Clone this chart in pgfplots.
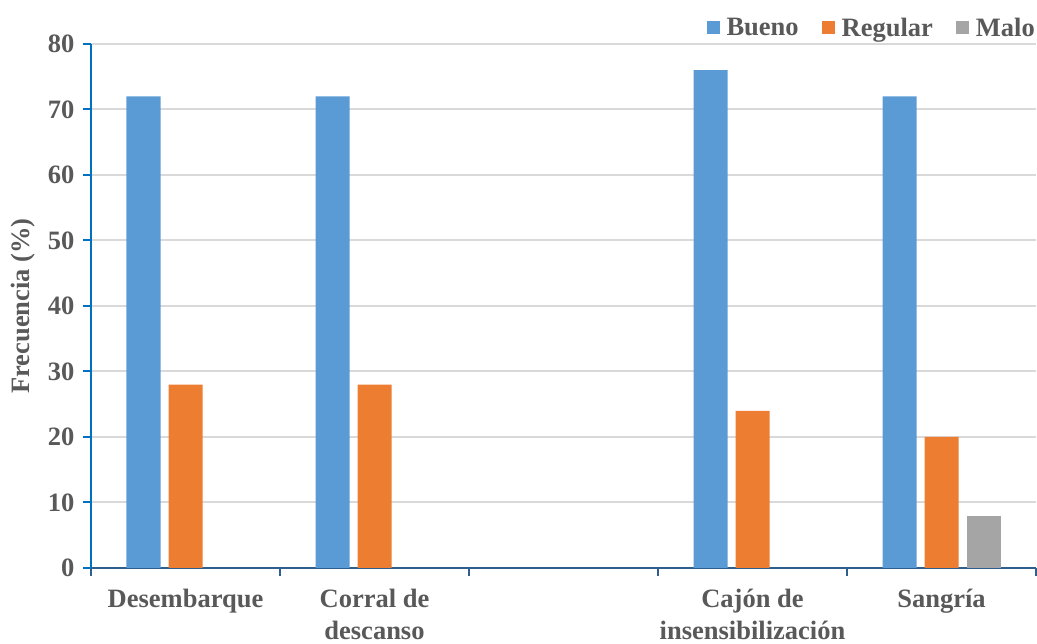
\documentclass[border=0pt]{standalone}
\usepackage{fontspec}
\setmainfont{Liberation Serif}
\usepackage{pgfplots}
\pgfplotsset{compat=1.18}

\definecolor{cBueno}{HTML}{5B9BD5}
\definecolor{cRegular}{HTML}{ED7D31}
\definecolor{cMalo}{HTML}{A5A5A5}
\definecolor{txt}{HTML}{595959}
\definecolor{gridc}{HTML}{D9D9D9}
\definecolor{yline}{HTML}{0070C0}
\definecolor{xline}{HTML}{2F5F8F}

\newcommand{\lbl}{\fontsize{26.5}{32}\selectfont\bfseries}

\begin{document}
\begin{tikzpicture}[x=1pt,y=1pt]
\useasboundingbox (0,0) rectangle (1037,644);
\begin{axis}[
  at={(91pt,76pt)}, anchor=south west,
  scale only axis, width=945pt, height=524pt,
  ybar=8pt, bar width=34pt,
  xmin=-0.5, xmax=4.5, ymin=0, ymax=80,
  ytick={0,10,...,80},
  xtick={0,1,3,4},
  xticklabels={Desembarque,{Corral de\\descanso},{Cajón de\\insensibilización},Sangría},
  minor xtick={-0.5,0.5,1.5,2.5,3.5,4.5},
  major x tick style={draw=none},
  minor x tick style={draw=xline, line width=2pt},
  minor tick length=8pt,
  y tick style={draw=yline, line width=2pt},
  major tick length=8pt,
  tick align=outside,
  axis x line*=bottom, axis y line*=left,
  x axis line style={draw=xline, line width=2pt, -},
  y axis line style={draw=yline, line width=2pt, -},
  ymajorgrids, grid style={draw=gridc, line width=2pt},
  /pgf/number format/assume math mode=true,
  yticklabel style={font=\lbl, text=txt, xshift=-5pt},
  xticklabel style={font=\lbl, text=txt, align=center, yshift=-10pt},
  ylabel={Frecuencia (\%)},
  ylabel style={font=\lbl, text=txt, yshift=6pt},
  legend style={at={(1,1)}, anchor=south east, draw=none, fill=none,
    legend columns=-1, font=\lbl, text=txt, yshift=2pt, xshift=4pt,
    /tikz/every odd column/.append style={column sep=5pt},
    /tikz/every even column/.append style={column sep=21pt}},
  legend image code/.code={\fill[#1,draw=none] (0pt,-6.5pt) rectangle (13pt,6.5pt);},
]
\addplot[fill=cBueno, draw=none] coordinates {(0,72) (1,72) (3,76) (4,72)};
\addplot[fill=cRegular, draw=none] coordinates {(0,28) (1,28) (3,24) (4,20)};
\addplot[fill=cMalo, draw=none] coordinates {(4,8)};
\legend{Bueno,Regular,Malo}
\end{axis}
\end{tikzpicture}
\end{document}
